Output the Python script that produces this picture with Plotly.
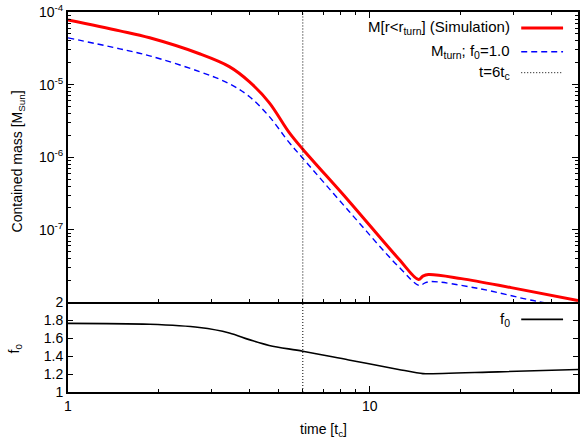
import math
import plotly.graph_objects as go

# ---------------- data ----------------
t_sim = [1.0, 1.485, 1.865, 2.727, 3.424, 3.987, 4.642, 5.403, 6.0, 8.52, 12.46, 14.51, 15.0, 15.65, 20.12, 29.42, 49.0]
m_sim = [7.77e-5, 5.5e-5, 4.41e-5, 2.66e-5, 1.77e-5, 1.1e-5, 5.66e-6, 2.2e-6, 1.29e-6, 2.5e-7, 4.0e-8, 2.07e-8, 2.3e-8, 2.42e-8, 2.13e-8, 1.6e-8, 1.06e-8]

t_turn = [1.0, 1.485, 1.865, 2.727, 3.424, 3.987, 4.642, 5.403, 6.0, 8.52, 12.46, 14.62, 15.2, 15.9, 22.9, 36.1, 49.0]
m_turn = [4.41e-5, 3.11e-5, 2.49e-5, 1.51e-5, 1.03e-5, 6.86e-6, 3.65e-6, 1.6e-6, 9.7e-7, 1.82e-7, 3.11e-8, 1.71e-8, 1.85e-8, 1.94e-8, 1.56e-8, 1.03e-8, 8.6e-9]

t_f0 = [1.0, 1.865, 2.727, 3.424, 3.987, 4.642, 6.0, 8.52, 12.46, 15.0, 15.4, 26.66, 49.0]
f0_vals = [1.767, 1.756, 1.72, 1.66, 1.585, 1.52, 1.456, 1.358, 1.252, 1.205, 1.203, 1.225, 1.252]

t_mark = 6.0
x_range = [1.0, 49.0]
m_range = [1e-8, 1e-4]
f0_range = [1.0, 2.0]

m_major = [1e-7, 1e-6, 1e-5, 1e-4]
m_major_text = ["10<sup>-7</sup>", "10<sup>-6</sup>", "10<sup>-5</sup>", "10<sup>-4</sup>"]
f0_ticks = [1.0, 1.2, 1.4, 1.6, 1.8, 2.0]
f0_tick_text = ["1", "1.2", "1.4", "1.6", "1.8", "2"]
x_major = [1, 10]
x_major_text = ["1", "10"]

labels = ["M[r&lt;r<sub>turn</sub>] (Simulation)", "M<sub>turn</sub>; f<sub>0</sub>=1.0", "t=6t<sub>c</sub>", "f<sub>0</sub>"]

# ---------------- figure ----------------
FONT = "Liberation Sans, Arial, sans-serif"
W, H = 582, 444
ml, mr, mt, mb = 68, 2, 10, 52
pw, ph = W - ml - mr, H - mt - mb
split = (392 - 302) / ph  # bottom panel fraction

m_minor = [k * 10 ** e for e in range(-8, -4) for k in range(2, 10)]
x_minor = [k * 10 ** e for e in range(0, 2) for k in range(2, 10) if k * 10 ** e < x_range[1]]

fig = go.Figure()

red = "#ff0000"
blue = "#0000ff"
blue_dash = "6px,4px"
dot = "1px,2px"

fig.add_trace(go.Scatter(x=t_sim, y=m_sim, mode="lines", line=dict(color=red, width=3),
                         line_shape="spline", xaxis="x", yaxis="y", showlegend=False))
fig.add_trace(go.Scatter(x=t_turn, y=m_turn, mode="lines", line=dict(color=blue, width=1.4, dash=blue_dash),
                         line_shape="spline", xaxis="x", yaxis="y", showlegend=False))
fig.add_trace(go.Scatter(x=[t_mark, t_mark], y=m_range, mode="lines", line=dict(color="black", width=1, dash=dot),
                         xaxis="x", yaxis="y", showlegend=False))
fig.add_trace(go.Scatter(x=t_f0, y=f0_vals, mode="lines", line=dict(color="black", width=1.6),
                         line_shape="spline", xaxis="x2", yaxis="y2", showlegend=False))
fig.add_trace(go.Scatter(x=[t_mark, t_mark], y=f0_range, mode="lines", line=dict(color="black", width=1, dash=dot),
                         xaxis="x2", yaxis="y2", showlegend=False))

logx = [math.log10(x_range[0]), math.log10(x_range[1])]
axis_common = dict(showline=True, linecolor="black", linewidth=2, ticks="inside", tickcolor="black",
                   tickwidth=1, showgrid=False, zeroline=False)

fig.update_layout(
    width=W, height=H,
    margin=dict(l=ml, r=mr, t=mt, b=mb),
    paper_bgcolor="white", plot_bgcolor="white",
    font=dict(family=FONT, size=14, color="black"),
    xaxis=dict(type="log", range=logx, domain=[0, 1], anchor="y", mirror="ticks",
               tickvals=x_major, showticklabels=False, ticklen=6,
               minor=dict(tickvals=x_minor, ticklen=3, ticks="inside", tickcolor="black"),
               **axis_common),
    yaxis=dict(type="log", range=[math.log10(m_range[0]), math.log10(m_range[1])], domain=[split, 1], anchor="x",
               mirror="ticks", tickvals=m_major, ticktext=m_major_text, ticklen=6,
               minor=dict(tickvals=m_minor, ticklen=3, ticks="inside", tickcolor="black"),
               **axis_common),
    xaxis2=dict(type="log", range=logx, domain=[0, 1], anchor="y2", mirror=False,
                tickvals=x_major, ticktext=x_major_text, ticklen=6,
                minor=dict(tickvals=x_minor, ticklen=3, ticks="inside", tickcolor="black"),
                **axis_common),
    yaxis2=dict(range=f0_range, domain=[0, split], anchor="x2", mirror="ticks",
                tickvals=f0_ticks, ticktext=f0_tick_text, ticklen=5,
                **axis_common),
)

def px(x):
    return (x - ml) / pw

def py(y):
    return (H - mb - y) / ph

ann = []
leg_rows = [(26, labels[0]), (50, labels[1]), (71, labels[2]), (319, labels[3])]
for y, txt in leg_rows:
    ann.append(dict(x=px(514), y=py(y), xref="paper", yref="paper", text=txt, showarrow=False,
                    xanchor="right", yanchor="middle", font=dict(size=15, family=FONT, color="black")))

fig.update_layout(annotations=ann + [
    dict(x=px(18), y=py(160), xref="paper", yref="paper", text="Contained mass [M<sub>Sun</sub>]",
         textangle=-90, showarrow=False, xanchor="center", yanchor="middle", font=dict(size=14, family=FONT)),
    dict(x=px(15), y=py(348), xref="paper", yref="paper", text="f<sub>0</sub>",
         textangle=-90, showarrow=False, xanchor="center", yanchor="middle", font=dict(size=14, family=FONT)),
    dict(x=px(325), y=py(430), xref="paper", yref="paper", text="time [t<sub>c</sub>]",
         showarrow=False, xanchor="center", yanchor="middle", font=dict(size=14, family=FONT)),
])

samples = [(26, dict(color=red, width=3)), (50, dict(color=blue, width=1.4, dash=blue_dash)),
           (71, dict(color="black", width=1, dash=dot)), (319, dict(color="black", width=1.6))]
for y, ln in samples:
    fig.add_shape(type="line", xref="paper", yref="paper", x0=px(523), x1=px(565), y0=py(y), y1=py(y), line=ln)

fig.write_html("out.html", config={"displayModeBar": False},
               post_script="document.body.style.margin='0';document.body.style.overflow='hidden';")
